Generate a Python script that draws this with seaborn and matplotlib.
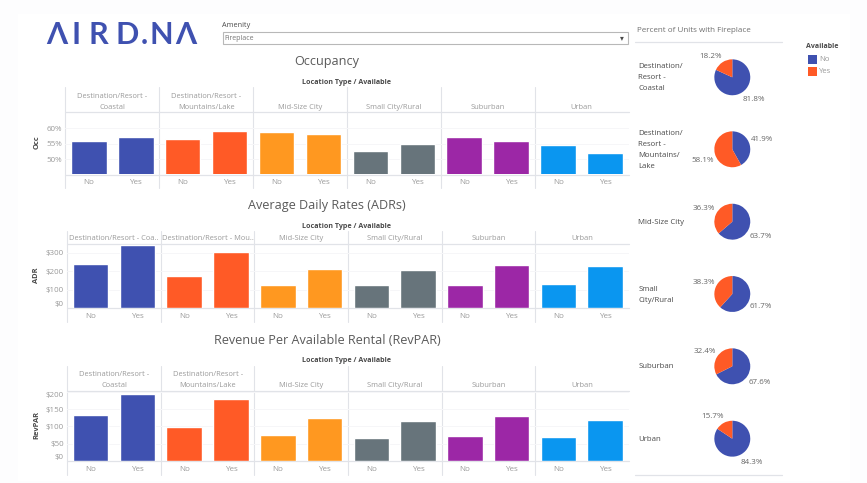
import pandas as pd
import numpy as np
import matplotlib
matplotlib.use("Agg")
import matplotlib.pyplot as plt
from matplotlib.patches import Rectangle
import seaborn as sns

W, H = 867, 483

locations = ["Destination/Resort - Coastal", "Destination/Resort - Mountains/Lake",
             "Mid-Size City", "Small City/Rural", "Suburban", "Urban"]
available = ["No", "Yes"]

occ_no = [55.8, 56.5, 58.6, 52.7, 57.2, 54.4]
occ_yes = [57.2, 59.0, 58.0, 55.0, 55.8, 51.8]
adr_no = [238, 173, 127, 128, 127, 132]
adr_yes = [340, 303, 211, 205, 232, 229]
rev_no = [133, 98, 75, 67, 73, 70]
rev_yes = [193, 180, 124, 115, 131, 120]
pct_no = [81.8, 41.9, 63.7, 61.7, 67.6, 84.3]
pct_yes = [18.2, 58.1, 36.3, 38.3, 32.4, 15.7]

bar_colors = ["#3f51b0", "#ff5a26", "#ff9820", "#67747b", "#9c27a6", "#0a96f0"]
pie_colors = ["#3f51b0", "#ff5a26"]
GRAY = "#9a9a9a"
DARK = "#4a4a4a"
LINE = "#e1e3e8"

sns.set_theme(style="white")
plt.rcParams["font.family"] = ["Open Sans", "DejaVu Sans"]

fig = plt.figure(figsize=(W / 100, H / 100), dpi=100, facecolor="#fdfdfe")

# full size layer in pixel coordinates for the text and rules
bg = fig.add_axes([0, 0, 1, 1])
bg.set_xlim(0, W)
bg.set_ylim(H, 0)
bg.axis("off")
bg.add_patch(Rectangle((18, 14), 832, 467, fc="white", ec="none"))


def label(x, y, s, size=5.4, color=GRAY, ha="left", **kw):
    bg.text(x, y, s, fontsize=size, color=color, ha=ha, va="center", **kw)


def px_axes(x0, y0, x1, y1):
    return fig.add_axes([x0 / W, 1 - y1 / H, (x1 - x0) / W, (y1 - y0) / H])


def bar_panel(no, yes, x0, top, head, base, bottom, ymin, ymax, ticks, fmt, ylab, ylab_y,
              title, title_y, loc_y, head_rows, head_y):
    df = pd.DataFrame({"Location": np.repeat(locations, 2),
                       "Available": available * 6,
                       "value": np.ravel(np.column_stack([no, yes]))})
    df["bar"] = df["Location"] + "|" + df["Available"]

    ax = px_axes(x0, head, 628.6, base)
    ax.patch.set_alpha(0)
    sns.barplot(data=df, x="bar", y="value", hue="Location", palette=bar_colors,
                dodge=False, width=0.76, legend=False, saturation=1, ax=ax)
    ax.set_xlim(-0.5, 11.5)
    ax.set_ylim(ymin, ymax)
    ax.set_xlabel("")
    ax.set_ylabel("")
    ax.set_xticks(range(12))
    ax.set_xticklabels(available * 6, fontsize=5.8, color=GRAY)
    ax.tick_params(axis="x", length=0, pad=3.5)
    ax.set_yticks(ticks)
    ax.set_yticklabels([fmt(t) for t in ticks], fontsize=5.8, color=GRAY)
    ax.tick_params(axis="y", length=0, pad=2.5)
    tl = ax.get_yticklabels()
    if ticks[0] == 0:
        tl[0].set_va("bottom")
    if ticks[-1] > ymax - (ymax - ymin) * 0.05:
        tl[-1].set_va("top")
    ax.grid(axis="y", color="#f6f6f8", lw=0.7)
    ax.set_axisbelow(True)
    for side in ax.spines.values():
        side.set_visible(False)

    # header and base rules, panel separators
    bg.plot([x0, 628.6], [head, head], color=LINE, lw=0.9)
    bg.plot([x0, 628.6], [base, base], color=LINE, lw=0.9)
    pitch = (628.6 - x0) / 6
    for i in range(6):
        bg.plot([x0 + i * pitch] * 2, [top, bottom], color=LINE, lw=0.8)
        cx = x0 + (i + 0.5) * pitch
        for row, y in zip(head_rows[i], head_y[-len(head_rows[i]):]):
            label(cx, y, row, ha="center")

    label(327, title_y, title, size=9.1, color="#5a5a5a", ha="center")
    label(347, loc_y, "Location Type / Available", size=5.1, color=DARK, ha="center",
          fontweight="bold")
    label(36.7, ylab_y, ylab, size=5.4, color=DARK, ha="center", rotation=90, fontweight="bold")


two_rows = [["Destination/Resort -", "Coastal"], ["Destination/Resort -", "Mountains/Lake"],
            ["Mid-Size City"], ["Small City/Rural"], ["Suburban"], ["Urban"]]
one_row = [["Destination/Resort - Coa.."], ["Destination/Resort - Mou.."],
           ["Mid-Size City"], ["Small City/Rural"], ["Suburban"], ["Urban"]]

bar_panel(occ_no, occ_yes, 65.3, 87, 112, 174.5, 188, 45, 65.2, [50, 55, 60],
          lambda t: f"{t}%", "Occ", 141.7, "Occupancy", 62, 82, two_rows, [96.3, 107.3])
bar_panel(adr_no, adr_yes, 67.3, 231, 244.3, 308.3, 322, 0, 346, [0, 100, 200, 300],
          lambda t: f"${t}", "ADR", 275, "Average Daily Rates (ADRs)", 206, 226, one_row, [238.3])
bar_panel(rev_no, rev_yes, 67.3, 366, 391, 461.3, 475, 0, 202, [0, 50, 100, 150, 200],
          lambda t: f"${t}", "RevPAR", 425, "Revenue Per Available Rental (RevPAR)", 340, 360.3,
          two_rows, [375, 385.7])

# logo
logo_x = [57, 76.5, 98, 127.5, 144.5, 161.5, 186]
for ch, x in zip(["\u039b", "I", "R", "D", ".", "N", "\u039b"], logo_x):
    label(x, 34.5, ch, size=22, color="#3f51b0", ha="center", family="Lato", fontweight="bold")

# amenity filter
label(222, 25.7, "Amenity", size=5.2, color=DARK)
bg.add_patch(Rectangle((222.5, 32.3), 405.5, 11.7, fc="white", ec="#b8b8b8", lw=0.8))
label(224.5, 38.3, "Fireplace", size=5, color="#777777")
label(622, 38.3, "\u25be", size=5.5, color=DARK, ha="center")

# pies
label(637, 30, "Percent of Units with Fireplace", size=5.8, color="#707070")
bg.plot([635, 782], [41.5, 41.5], color=LINE, lw=0.9)
bg.plot([635, 782], [475, 475], color=LINE, lw=0.9)

pie_y = [77.3, 149.3, 221.7, 294, 366.3, 438.7]
pie_rows = [(["Destination/", "Resort -", "Coastal"], [66.7, 77.3, 88.3]),
            (["Destination/", "Resort -", "Mountains/", "Lake"], [133.3, 144.3, 155.3, 166]),
            (["Mid-Size City"], [222]),
            (["Small", "City/Rural"], [289.3, 300.3]),
            (["Suburban"], [367]),
            (["Urban"], [439.3])]
yes_pos = [(711, 56), (703, 160.3), (704, 208.7), (703.7, 282), (705, 351.3), (712.3, 416.7)]
no_pos = [(753.7, 99.7), (762.3, 139.7), (761, 236), (761, 307), (759.7, 382.3), (752.3, 462)]

for i, cy in enumerate(pie_y):
    ax = px_axes(732.3 - 18.5, cy - 18.5, 732.3 + 18.5, cy + 18.5)
    ax.pie([pct_no[i], pct_yes[i]], colors=pie_colors, startangle=90, counterclock=False,
           radius=1.0, wedgeprops={"linewidth": 0})
    ax.set_xlim(-1.03, 1.03)
    ax.set_ylim(-1.03, 1.03)
    rows, ys = pie_rows[i]
    for row, y in zip(rows, ys):
        label(638.3, y, row, size=5.6, color=DARK)
    label(*yes_pos[i], f"{pct_yes[i]:.1f}%", size=5.8, color="#666666", ha="center")
    label(*no_pos[i], f"{pct_no[i]:.1f}%", size=5.8, color="#666666", ha="center")

# legend
label(806, 46.5, "Available", size=5.0, color=DARK, fontweight="bold")
for name, color, y in zip(available, pie_colors, [59.5, 71.8]):
    bg.add_patch(Rectangle((807.7, y - 4.5), 9, 9, fc=color, ec="none"))
    label(819, y, name, size=5.6, color=GRAY)

fig.savefig("out.png", dpi=100, facecolor=fig.get_facecolor())
